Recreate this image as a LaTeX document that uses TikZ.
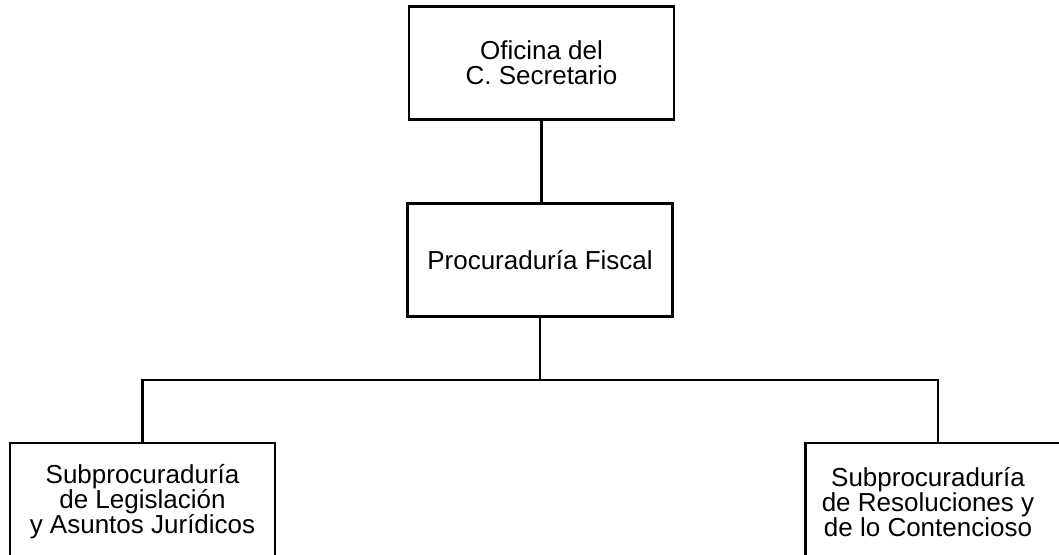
\documentclass[tikz,border=0pt]{standalone}
\usepackage{fontspec}
\setmainfont{Liberation Sans}
\begin{document}
\begin{tikzpicture}[x=1pt,y=-1pt,line width=2.4pt,
  box/.style={draw,rectangle,minimum width=265pt,minimum height=113pt,
    align=center,inner sep=0pt,font=\fontsize{26}{25}\selectfont},
  lbl/.style={align=center,inner sep=0pt,font=\fontsize{26}{25}\selectfont}]
\useasboundingbox (0,0) rectangle (1059,554);
\clip (0,0) rectangle (1059,554);
% top levels
\node[box] (ofi) at (541.5,63) {Oficina del\\C. Secretario};
\node[box] (proc) at (540,260) {Procuraduría Fiscal};
\coordinate (bar) at (540,380);
% subprocuradurias
\node[box,minimum height=118pt] (sl) at (142.5,502) {Subprocuraduría\\de Legislación\\y Asuntos Jurídicos};
\node[box,minimum height=118pt] (sr) at (938,502) {};
\node[lbl] (srt) at (928,502) {Subprocuraduría\\de Resoluciones y\\de lo Contencioso};
% connectors
\draw (ofi.south) -- (ofi.south |- proc.north);
\draw (proc) -- (bar);
\draw (sl.north) -- (sl.north |- bar) -- (sr.north |- bar) -- (sr.north);
\end{tikzpicture}
\end{document}
